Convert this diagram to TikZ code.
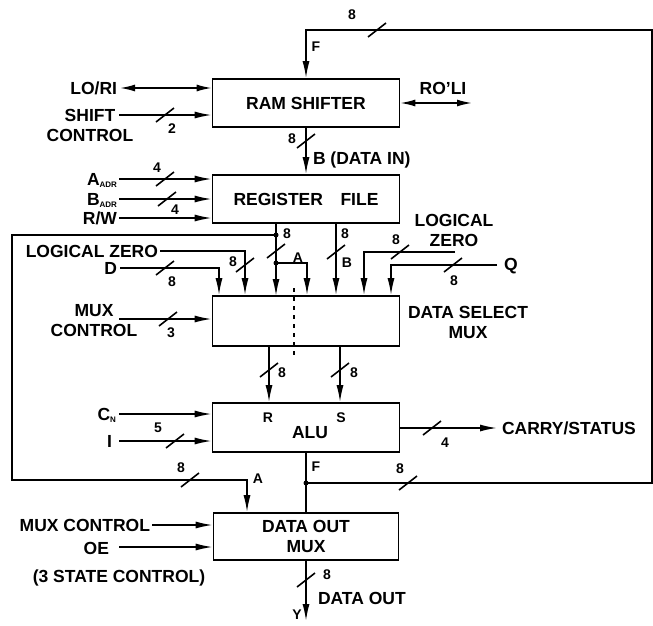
\documentclass[tikz,border=0pt]{standalone}
\usepackage{fontspec}
\setmainfont{Liberation Sans}
\usetikzlibrary{arrows.meta,calc}
\tikzset{
  box/.style={draw, line width=1.6pt, minimum width=187pt, minimum height=48pt, inner sep=0pt,
    font=\bfseries\fontsize{17.5}{20}\selectfont, align=center},
  lab/.style={inner sep=0pt, outer sep=0pt, font=\bfseries\fontsize{17.5}{20}\selectfont, align=center},
  sm/.style={inner sep=0pt, font=\bfseries\fontsize{14}{16}\selectfont},
  wire/.style={line width=1.6pt},
  arr/.style={wire, -{Latex[length=17pt,width=7pt]}},
  biarr/.style={wire, {Latex[length=15pt,width=7pt]}-{Latex[length=15pt,width=7pt]}},
  jdot/.style={circle, fill, inner sep=0pt, minimum size=5pt},
  buscut/.pic={\draw[line width=1.6pt] (-9,7) -- (9,-7);},
}
\newcommand{\sub}[1]{{\fontsize{8}{8}\selectfont\raisebox{-2pt}{#1}}}
\begin{document}
\begin{tikzpicture}[x=1pt,y=-1pt]
\useasboundingbox (0,0) rectangle (653,625);
% ---------- boxes
\node[box] (rs) at (306,103) {RAM SHIFTER};
\node[box] (rf) at (306,199) {REGISTER\quad FILE};
\node[box, minimum height=50pt] (dsm) at (306,321) {};
\node[box, minimum height=49pt] (alu) at (306,427.5) {};
\node[box, minimum width=185pt, minimum height=47pt] (dom) at (306,536.5) {DATA OUT\\MUX};
\node[lab] (alulab) at (310,433) {ALU};
\node[sm] (rlab) at (268,418) {R};
\node[sm] (slab) at (341,418) {S};
% ---------- F feedback loop
\coordinate (fTopL) at (306,30);
\coordinate (fTopR) at (652,30);
\coordinate (fBotR) at (652,483);
\coordinate (jF) at (306,483);
\draw[arr] (jF) -- (fBotR) -- (fTopR) -- (fTopL) -- (rs.north);
\pic at (377,30) {buscut};
\node[sm] (n8top) at (352,15) {8};
\node[sm] (ftop) at (316,47) {F};
\pic at (408,483) {buscut};
\node[sm] (n8fr) at (400,469) {8};
\draw[wire] (alu.south) -- (dom.north);
\node[jdot] (jFd) at (jF) {};
\node[sm] (fbot) at (316,467) {F};
% ---------- RAM shifter to register file
\draw[arr] (rs.south) -- (rf.north);
\pic at (306,141) {buscut};
\node[sm] (n8b) at (292,139) {8};
\node[lab, anchor=west] (datain) at (313,160) {B (DATA IN)};
% ---------- RAM shifter side signals
\node[lab, anchor=east] (lori) at (117,88) {LO/RI};
\coordinate (loriE) at (120,88);
\draw[biarr] (loriE) -- (loriE -| rs.west);
\node[lab] (shc) at (90,125) {SHIFT\\CONTROL};
\coordinate (shcE) at (119,115);
\draw[arr] (shcE) -- (shcE -| rs.west);
\pic at (165,115) {buscut};
\node[sm] (n2) at (172,129) {2};
\node[lab] (roli) at (443,88) {RO'LI};
\coordinate (roliE) at (472,103);
\draw[biarr] (rs.east) -- (roliE);
% ---------- register file inputs
\node[lab, anchor=east] (aadr) at (117,180) {A\sub{ADR}};
\coordinate (aadrE) at (119,179);
\draw[arr] (aadrE) -- (aadrE -| rf.west);
\pic at (165,179) {buscut};
\node[sm] (n4a) at (157,168) {4};
\node[lab, anchor=east] (badr) at (117,200) {B\sub{ADR}};
\coordinate (badrE) at (119,199);
\draw[arr] (badrE) -- (badrE -| rf.west);
\pic at (167,199) {buscut};
\node[sm] (n4b) at (175,210) {4};
\node[lab, anchor=east] (rw) at (117,218) {R/W};
\coordinate (rwE) at (119,218);
\draw[arr] (rwE) -- (rwE -| rf.west);
% ---------- register file A output
\coordinate (aOut) at (276,223);
\coordinate (jA1) at (276,235);
\coordinate (jA2) at (276,263);
\coordinate (aIn) at (276,296);
\coordinate (aBr) at (307,263);
\coordinate (aLt) at (12,235);
\coordinate (aLb) at (12,480);
\coordinate (aBm) at (247,480);
\draw[arr] (aOut) -- (aIn);
\draw[arr] (jA2) -- (aBr) -- (aBr |- dsm.north);
\draw[arr] (jA1) -- (aLt) -- (aLb) -- (aBm) -- (aBm |- dom.north);
\node[jdot] (jA1d) at (jA1) {};
\node[jdot] (jA2d) at (jA2) {};
\pic at (276,251) {buscut};
\node[sm] (n8a) at (287,234) {8};
\node[sm] (alab) at (298,258) {A};
\pic at (190,480) {buscut};
\node[sm] (n8bl) at (181,468) {8};
\node[sm] (abot) at (258,479) {A};
% ---------- register file B output
\coordinate (bOut) at (336,223);
\draw[arr] (bOut) -- (bOut |- dsm.north);
\pic at (336,252) {buscut};
\node[sm] (n8bo) at (345,234) {8};
\node[sm] (blab) at (347,263) {B};
% ---------- other mux inputs
\node[lab, anchor=east] (lz1) at (158,251) {LOGICAL ZERO};
\coordinate (lz1E) at (160,251);
\coordinate (lz1B) at (245,251);
\draw[arr] (lz1E) -- (lz1B) -- (lz1B |- dsm.north);
\pic at (245,265) {buscut};
\node[sm] (n8lz1) at (233,262) {8};
\node[lab, anchor=east] (dlab) at (117,268) {D};
\coordinate (dE) at (120,268);
\coordinate (dB) at (219,268);
\draw[arr] (dE) -- (dB) -- (dB |- dsm.north);
\pic at (165,268) {buscut};
\node[sm] (n8d) at (172,282) {8};
\node[lab] (lz2) at (454,230) {LOGICAL\\ZERO};
\coordinate (lz2E) at (455,252);
\coordinate (lz2B) at (364,252);
\draw[arr] (lz2E) -- (lz2B) -- (lz2B |- dsm.north);
\pic at (400,252) {buscut};
\node[sm] (n8lz2) at (396,240) {8};
\node[lab] (qlab) at (511,266) {Q};
\coordinate (qE) at (497,265);
\coordinate (qB) at (391,265);
\draw[arr] (qE) -- (qB) -- (qB |- dsm.north);
\pic at (453,265) {buscut};
\node[sm] (n8q) at (454,281) {8};
\node[lab] (dsmlab) at (468,322) {DATA SELECT\\MUX};
\node[lab] (mc1) at (94,321) {MUX\\CONTROL};
\coordinate (mc1E) at (119,319);
\draw[arr] (mc1E) -- (mc1E -| dsm.west);
\pic at (168,319) {buscut};
\node[sm] (n3) at (171,333) {3};
\draw[wire, dash pattern=on 4pt off 5pt] (294,288) -- (294,357);
% ---------- mux to ALU
\coordinate (rOut) at (269,346);
\draw[arr] (rOut) -- (rOut |- alu.north);
\pic at (269,370) {buscut};
\node[sm] (n8r) at (282,373) {8};
\coordinate (sOut) at (340,346);
\draw[arr] (sOut) -- (sOut |- alu.north);
\pic at (340,370) {buscut};
\node[sm] (n8s) at (354,373) {8};
% ---------- ALU side signals
\node[lab, anchor=east] (cn) at (116,415) {C\sub{N}};
\coordinate (cnE) at (119,414);
\draw[arr] (cnE) -- (cnE -| alu.west);
\node[lab, anchor=east] (ilab) at (112,441) {I};
\coordinate (iE) at (119,441);
\draw[arr] (iE) -- (iE -| alu.west);
\pic at (175,441) {buscut};
\node[sm] (n5) at (158,428) {5};
\node[lab, anchor=west] (carry) at (502,428) {CARRY/STATUS};
\coordinate (cyE) at (497,428);
\draw[arr] (cyE -| alu.east) -- (cyE);
\pic at (432,428) {buscut};
\node[sm] (n4c) at (445,443) {4};
% ---------- data out mux
\node[lab, anchor=east] (mc2) at (150,525) {MUX CONTROL};
\coordinate (mc2E) at (152,525);
\draw[arr] (mc2E) -- (mc2E -| dom.west);
\node[lab, anchor=east] (oe) at (109,548) {OE};
\coordinate (oeE) at (119,547);
\draw[arr] (oeE) -- (oeE -| dom.west);
\node[lab] (tsc) at (119,578) {(3 STATE CONTROL)};
\coordinate (yEnd) at (306,621);
\draw[arr] (dom.south) -- (yEnd);
\pic at (306,580) {buscut};
\node[sm] (n8y) at (327,575) {8};
\node[lab, anchor=west] (dout) at (318,598) {DATA OUT};
\node[sm] (ylab) at (297,615) {Y};
\end{tikzpicture}
\end{document}
